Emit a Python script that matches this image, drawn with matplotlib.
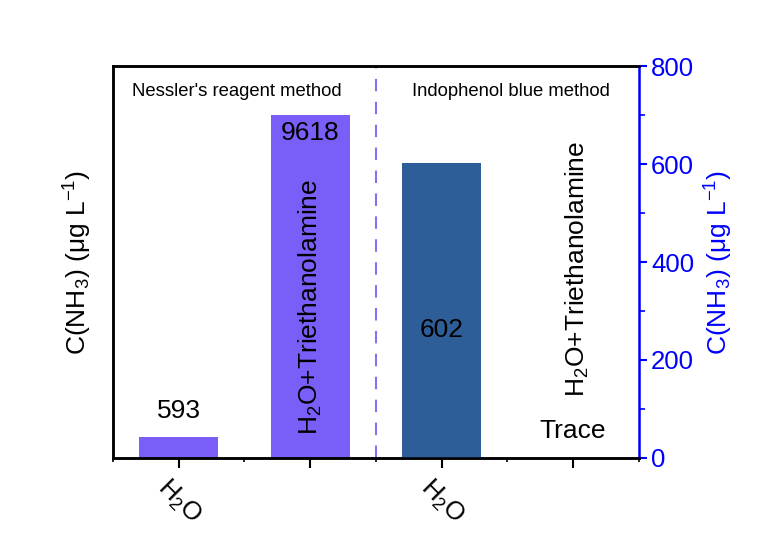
import numpy as np
import matplotlib
matplotlib.use('Agg')
import matplotlib.pyplot as plt
from matplotlib.ticker import MultipleLocator, FixedLocator
import matplotlib.transforms as mtransforms

plt.rcParams['font.family'] = ['Liberation Sans', 'DejaVu Sans']
plt.rcParams['mathtext.fontset'] = 'custom'
plt.rcParams['mathtext.rm'] = 'Liberation Sans'
plt.rcParams['mathtext.it'] = 'Liberation Sans'

# data
positions = [1, 2, 3, 4]
nessler_pos = [1, 2]
nessler_vals = [593, 9618]
indophenol_pos = [3]
indophenol_vals = [602]
tick_labels = ['H$_2$O', '', 'H$_2$O', '']
section_titles = ["Nessler's reagent method", "Indophenol blue method"]

purple = '#7B5EF7'
dark_blue = '#2E5E97'
blue = '#0000FF'

fig = plt.figure(figsize=(7.64, 5.38), dpi=100)
ax = fig.add_axes([0.148, 0.149, 0.688, 0.728])
ax2 = ax.twinx()

ax.bar(nessler_pos, nessler_vals, width=0.6, color=purple)
ax2.bar(indophenol_pos, indophenol_vals, width=0.6, color=dark_blue)

ax.set_xlim(0.5, 4.5)
ax.set_ylim(0, 11000)
ax2.set_ylim(0, 800)

ax.axvline(2.5, color='#8A6FF2', lw=1.5, ls=(0, (6, 5)))

# x axis
ax.xaxis.set_major_locator(FixedLocator(positions))
ax.xaxis.set_minor_locator(FixedLocator([0.5, 1.5, 2.5, 3.5, 4.5]))
ax.set_xticklabels(tick_labels, rotation=-45, ha='center', va='top', fontsize=18.5)
ax.tick_params(axis='x', which='major', direction='out', length=7, width=1.5, pad=5)
ax.tick_params(axis='x', which='minor', direction='out', length=3, width=1.2)
ax.tick_params(axis='y', left=False, labelleft=False)
ax.yaxis.set_major_locator(FixedLocator([]))

# right axis
ax2.yaxis.set_major_locator(MultipleLocator(200))
ax2.yaxis.set_minor_locator(MultipleLocator(100))
ax2.tick_params(axis='y', which='major', colors=blue, labelsize=18.5, length=6, width=1.5, pad=3)
ax2.tick_params(axis='y', which='minor', colors=blue, length=4, width=1.2)
ax2.spines['right'].set_color(blue)
for sp in ['left', 'top', 'bottom']:
    ax.spines[sp].set_linewidth(1.8)
    ax2.spines[sp].set_linewidth(1.8)
ax2.spines['right'].set_linewidth(1.8)

ax.set_ylabel('C(NH$_3$) (μg L$^{-1}$)', fontsize=19, labelpad=14)
ax2.set_ylabel('C(NH$_3$) (μg L$^{-1}$)', fontsize=19, color=blue, labelpad=6)

# annotations
ax.annotate(str(nessler_vals[0]), (nessler_pos[0], nessler_vals[0]), xytext=(0, 10),
            textcoords='offset points', ha='center', va='bottom', fontsize=19)
ax.annotate(str(nessler_vals[1]), (nessler_pos[1], nessler_vals[1]), xytext=(0, -4),
            textcoords='offset points', ha='center', va='top', fontsize=19)
ax2.text(indophenol_pos[0], 261, str(indophenol_vals[0]), ha='center', va='center', fontsize=19)

ax.text(2, 650, 'H$_2$O+Triethanolamine', rotation=90, ha='center', va='bottom', fontsize=19)
ax2.text(4.03, 124, 'H$_2$O+Triethanolamine', rotation=90, ha='center', va='bottom', fontsize=19)
ax2.text(4, 55, 'Trace', ha='center', va='center', fontsize=19)

trans = mtransforms.blended_transform_factory(ax.transData, ax.transAxes)
ax.text(1.44, 0.936, section_titles[0], transform=trans, ha='center', va='center', fontsize=13.3)
ax.text(3.53, 0.936, section_titles[1], transform=trans, ha='center', va='center', fontsize=13.3)

fig.savefig('out.png', dpi=100)
